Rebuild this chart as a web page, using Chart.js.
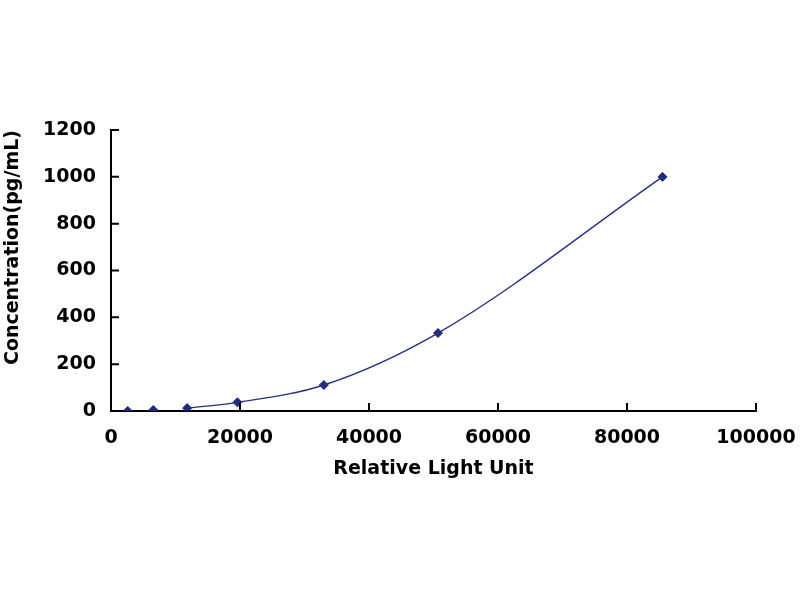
<!DOCTYPE html>
<html>
<head>
<meta charset="utf-8">
<script src="https://cdn.jsdelivr.net/npm/chart.js@4"></script>
<style>
    html, body { margin: 0; padding: 0; background: #fff; }
    #wrap { width: 800px; height: 600px; }
</style>
</head>
<body>
<div id="wrap"><canvas id="curveChart" width="800" height="600"></canvas></div>
<script>
// standard curve points
let rlu = [2600, 6550, 11800, 19600, 33000, 50700, 85500];
let conc = [0, 4.1, 12.3, 37, 111, 333, 1000];
// fitted curve drawn through the upper points only
let fitIndex = [2, 3, 4, 5, 6];

let xTicks = [0, 20000, 40000, 60000, 80000, 100000];
let yTicks = [0, 200, 400, 600, 800, 1000, 1200];

let points = rlu.map((x, i) => ({ x: x, y: conc[i] }));
let fitPoints = fitIndex.map((i) => ({ x: rlu[i], y: conc[i] }));

let tickFont = { family: "DejaVu Sans", weight: "bold", size: 19 };
let titleFont = { family: "DejaVu Sans", weight: "bold", size: 19 };

// tick marks inside the plot, like the old excel chart
let innerTicks = {
    id: "innerTicks",
    afterDraw(chart) {
        let ctx = chart.ctx;
        let xs = chart.scales.x;
        let ys = chart.scales.y;
        let len = 8;
        ctx.save();
        ctx.strokeStyle = "#000";
        ctx.lineWidth = 2;
        ctx.beginPath();
        xTicks.forEach((v) => {
            if (v === 0) return;
            let px = xs.getPixelForValue(v);
            ctx.moveTo(px, ys.bottom);
            ctx.lineTo(px, ys.bottom - len);
        });
        yTicks.forEach((v) => {
            if (v === 0) return;
            let py = ys.getPixelForValue(v);
            ctx.moveTo(xs.left, py);
            ctx.lineTo(xs.left + len, py);
        });
        ctx.stroke();
        ctx.restore();
    },
};

let ctx = document.querySelector("#curveChart").getContext("2d");
let myChart = new Chart(ctx, {
    type: "scatter",
    data: {
        datasets: [
            {
                label: "fit",
                data: fitPoints,
                showLine: true,
                borderColor: "#2b3080",
                borderWidth: 1.4,
                pointRadius: 0,
                cubicInterpolationMode: "monotone",
                fill: false,
            },
            {
                label: "standards",
                data: points,
                showLine: false,
                pointStyle: "rectRot",
                pointRadius: 4.5,
                backgroundColor: "#1f2a7a",
                borderColor: "#1f2a7a",
                borderWidth: 1,
            },
        ],
    },
    options: {
        responsive: false,
        animation: false,
        devicePixelRatio: 1,
        layout: {
            padding: { top: 130, right: 44, bottom: 0, left: 0 },
        },
        plugins: {
            legend: { display: false },
            tooltip: { enabled: false },
        },
        scales: {
            x: {
                type: "linear",
                min: 0,
                max: 100000,
                afterBuildTicks: (axis) => {
                    axis.ticks = xTicks.map((v) => ({ value: v }));
                },
                afterFit: (axis) => {
                    axis.height = 189;
                    axis.paddingLeft = 0;
                    axis.paddingRight = 0;
                },
                grid: { display: true, drawOnChartArea: false, drawTicks: false },
                border: { color: "#000", width: 2 },
                ticks: {
                    color: "#000",
                    font: tickFont,
                    padding: 16,
                    maxRotation: 0,
                    autoSkip: false,
                    callback: (v) => String(v),
                },
                title: {
                    display: true,
                    text: "Relative Light Unit",
                    color: "#000",
                    font: titleFont,
                    padding: { top: 0, bottom: 120 },
                },
            },
            y: {
                type: "linear",
                min: 0,
                max: 1200,
                afterBuildTicks: (axis) => {
                    axis.ticks = yTicks.map((v) => ({ value: v }));
                },
                afterFit: (axis) => {
                    axis.width = 111;
                    axis.paddingTop = 0;
                    axis.paddingBottom = 0;
                },
                grid: { display: true, drawOnChartArea: false, drawTicks: false },
                border: { color: "#000", width: 2 },
                ticks: {
                    color: "#000",
                    font: tickFont,
                    padding: 15,
                    autoSkip: false,
                    callback: (v) => String(v),
                },
                title: {
                    display: true,
                    text: "Concentration(pg/mL)",
                    color: "#000",
                    font: titleFont,
                    align: "end",
                    padding: { top: 2, bottom: 0 },
                },
            },
        },
    },
    plugins: [innerTicks],
});
</script>
</body>
</html>
